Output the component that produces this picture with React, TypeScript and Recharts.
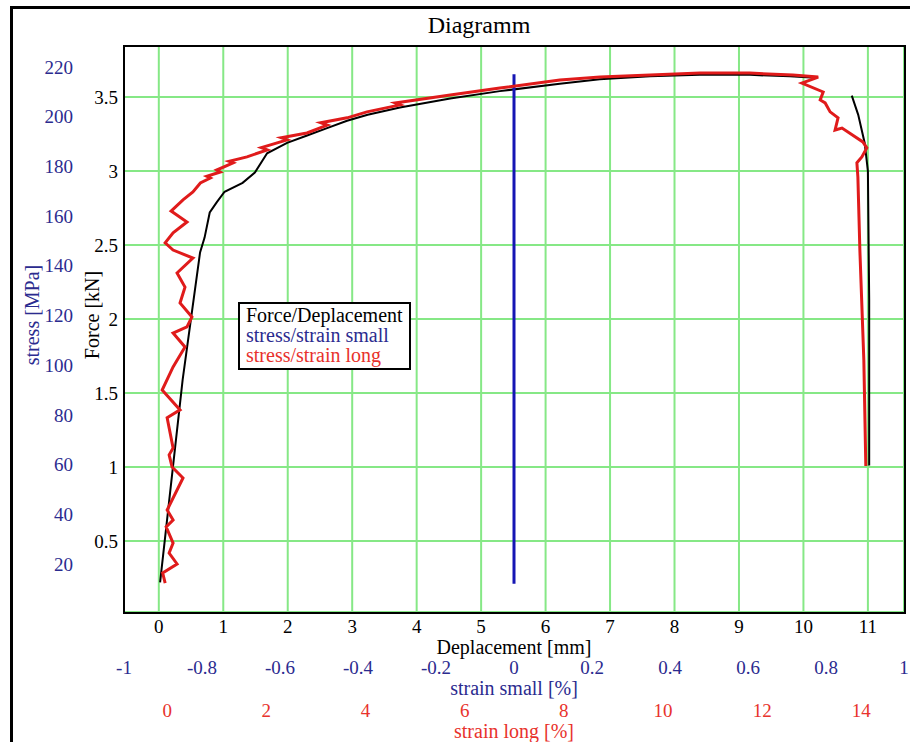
import { LineChart, Line, XAxis, YAxis, CartesianGrid, Legend } from "recharts";

const FONT = '"Liberation Serif", "Times New Roman", Times, serif';
const NAVY = "#2b2b8f";
const RED_TXT = "#e8322c";

// ticks
const mmTicks = [0, 1, 2, 3, 4, 5, 6, 7, 8, 9, 10, 11];
const forceTicks = [0.5, 1, 1.5, 2, 2.5, 3, 3.5];
const stressTicks = [20, 40, 60, 80, 100, 120, 140, 160, 180, 200, 220];
const smallTicks = [-1, -0.8, -0.6, -0.4, -0.2, 0, 0.2, 0.4, 0.6, 0.8, 1];
const longTicks = [0, 2, 4, 6, 8, 10, 12, 14];

// Force/Deplacement (black), null = gap in the record
const deplacementMm = [
  0.02, 0.37, 0.64, 0.71, 0.79, 0.9, 1.02, 1.3, 1.49, 1.68, 1.99, 2.3, 2.61, 2.92, 3.24,
  3.74, 4.52, 5.29, 6.22, 6.84, 7.62, 8.39, 9.17, 9.79, 10.18, 10.5, 10.75, 10.85, 10.95,
  11.0, 11.02, 11.02,
];
const forceKn = [
  0.22, 1.59, 2.45, 2.55, 2.72, 2.79, 2.86, 2.92, 2.99, 3.12, 3.19, 3.24, 3.29, 3.34, 3.38,
  3.43, 3.49, 3.54, 3.59, 3.62, 3.64, 3.65, 3.65, 3.64, 3.63, null, 3.51, 3.38, 3.19,
  3.0, 2.13, 1.01,
];

// stress/strain small (blue)
const strainSmall = [0, 0];
const stressSmall = [12, 217];

// stress/strain long (red)
const strainLong = [
  -0.04, -0.09, 0.2, 0.04, 0.12, -0.02, 0.12, 0, 0.32, 0.1, 0.04, 0.12, 0, 0.26, -0.1,
  0.12, 0.36, 0.12, 0.4, 0.5, 0.26, 0.36, 0.2, 0.52, 0.12, -0.04, 0.12, 0.4, 0.08,
  0.32, 0.52, 0.67, 0.87, 0.8, 1.07, 1.0, 1.33, 1.25, 1.61, 2.02, 1.9, 2.42, 2.3, 2.82,
  3.23, 3.1, 3.63, 4.03, 4.7, 4.6, 5.71, 6.71, 7.92, 8.73, 9.74, 10.75, 11.75, 12.62,
  13.13, 12.8, 13.23, 13.17, 13.27, 13.37, 13.53, 13.47, 13.61, 14.03, 14.11, 14.01,
  13.91, 13.93, 13.97, 14.05, 14.09,
];
const stressLong = [
  12.3, 16.4, 20, 24.4, 28.4, 34.9, 37.7, 41.7, 54.6, 59, 63.9, 66.7, 78.8, 82, 90,
  99.3, 107.3, 112.9, 115.4, 119.4, 125, 131.4, 137.1, 143.1, 146.3, 149.2, 153.2,
  157.6, 162, 166.5, 169.7, 173.3, 175.3, 176, 177.7, 178.5, 181.4, 182, 183.8, 186.6,
  187.5, 190.6, 191.5, 193.4, 196.6, 197.5, 199.5, 201.9, 204.7, 205.5, 208.7, 211.5,
  214.7, 215.9, 216.7, 217.5, 217.5, 216.7, 215.9, 213.5, 209.9, 206.7, 205.5, 201.9,
  199.5, 194.6, 195.4, 189.8, 187.4, 183.8, 181.4, 175.7, 146.3, 102, 59.4,
];

const legendOrder = ["Force/Deplacement", "stress/strain small", "stress/strain long"];
const legendColors: Record<string, string> = {
  "Force/Deplacement": "#000",
  "stress/strain small": NAVY,
  "stress/strain long": RED_TXT,
};

const zip = (xs: number[], ys: (number | null)[]) => xs.map((x, i) => ({ x, y: ys[i] }));
const forceData = zip(deplacementMm, forceKn);
const smallData = zip(strainSmall, stressSmall);
const longData = zip(strainLong, stressLong);

const VLabel = (props: any) => {
  const { viewBox, value, dx, fill } = props;
  const cx = viewBox.x + dx;
  const cy = 315;
  return (
    <text x={cx} y={cy} transform={`rotate(-90 ${cx} ${cy})`} textAnchor="middle"
      dominantBaseline="central" fill={fill} fontSize={20} fontFamily={FONT}>
      {value}
    </text>
  );
};

const HLabel = (props: any) => {
  const { viewBox, value, dy, fill } = props;
  return (
    <text x={viewBox.x + viewBox.width / 2} y={viewBox.y + dy} textAnchor="middle"
      dominantBaseline="central" fill={fill} fontSize={20} fontFamily={FONT}>
      {value}
    </text>
  );
};

const LegendBox = (props: any) => {
  const items = [...(props.payload ?? [])].sort(
    (a: any, b: any) => legendOrder.indexOf(a.value) - legendOrder.indexOf(b.value)
  );
  return (
    <div style={{ border: "2px solid #000", background: "#fff", padding: "1px 6px 3px",
      fontSize: 20, lineHeight: "20px", fontFamily: FONT, whiteSpace: "nowrap" }}>
      {items.map((p: any) => (
        <div key={p.value} style={{ color: legendColors[p.value] ?? p.color }}>{p.value}</div>
      ))}
    </div>
  );
};

const tickStyle = (fill: string) => ({ fill, fontSize: 19, fontFamily: FONT });

export default function App() {
  return (
    <div style={{ position: "absolute", left: 0, top: 0, width: 910, height: 742,
      overflow: "hidden", background: "#fff", fontFamily: FONT }}>
      <div style={{ position: "absolute", left: 10, top: 6, width: 940, height: 780,
        border: "3px solid #000" }} />
      <div style={{ position: "absolute", left: 0, top: 10, width: 958, textAlign: "center",
        fontSize: 24, lineHeight: "30px", color: "#000", fontFamily: FONT }}>
        Diagramm
      </div>
      <div style={{ position: "absolute", left: 0, top: 0 }}>
        <LineChart width={910} height={742} margin={{ top: 46, right: 6, bottom: 0, left: 0 }}
          style={{ fontFamily: FONT }}>
          <CartesianGrid xAxisId="x1mm" yAxisId="y1force" stroke="#86e886" strokeWidth={2} />
          <XAxis xAxisId="x1mm" dataKey="x" type="number" domain={[-0.54, 11.56]}
            allowDataOverflow ticks={mmTicks} height={43} tickLine={false} tickSize={0}
            tickMargin={8} axisLine={false} tick={tickStyle("#000")} interval={0}
            label={<HLabel value="Deplacement [mm]" dy={35} fill="#000" />} />
          <XAxis xAxisId="x2small" dataKey="x" type="number" domain={[-1, 1]}
            allowDataOverflow ticks={smallTicks} height={42} tickLine={false} tickSize={0}
            tickMargin={6} axisLine={false} tick={tickStyle(NAVY)} interval={0}
            label={<HLabel value="strain small [%]" dy={33} fill={NAVY} />} />
          <XAxis xAxisId="x3long" dataKey="x" type="number" domain={[-0.87, 14.86]}
            allowDataOverflow ticks={longTicks} height={45} tickLine={false} tickSize={0}
            tickMargin={7} axisLine={false} tick={tickStyle(RED_TXT)} interval={0}
            label={<HLabel value="strain long [%]" dy={34} fill={RED_TXT} />} />
          <YAxis yAxisId="y1force" type="number" domain={[0.02, 3.845]} allowDataOverflow
            ticks={forceTicks} width={44} tickLine={false} tickSize={0} tickMargin={6}
            axisLine={false} tick={tickStyle("#000")} interval={0}
            label={<VLabel value="Force [kN]" dx={12} fill="#000" />} />
          <YAxis yAxisId="y2stress" type="number" domain={[0.68, 228.4]} allowDataOverflow
            ticks={stressTicks} width={80} tickLine={false} tickSize={0} tickMargin={7}
            axisLine={false} tick={tickStyle(NAVY)} interval={0}
            label={<VLabel value="stress [MPa]" dx={32} fill={NAVY} />} />
          <Line xAxisId="x1mm" yAxisId="y1force" data={forceData} dataKey="y" name="Force/Deplacement"
            stroke="#000" strokeWidth={2} dot={false} isAnimationActive={false} type="linear" />
          <Line xAxisId="x2small" yAxisId="y2stress" data={smallData} dataKey="y" name="stress/strain small"
            stroke="#1616b4" strokeWidth={3} dot={false} isAnimationActive={false} type="linear" />
          <Line xAxisId="x3long" yAxisId="y2stress" data={longData} dataKey="y" name="stress/strain long"
            stroke="#e01b1b" strokeWidth={3} dot={false} isAnimationActive={false} type="linear" />
          <Legend layout="vertical" align="center" verticalAlign="middle" content={<LegendBox />}
            wrapperStyle={{ left: 238, top: 302, width: "auto", height: "auto" }} />
        </LineChart>
      </div>
      <div style={{ position: "absolute", left: 123, top: 45, width: 779, height: 565,
        border: "2px solid #000", pointerEvents: "none" }} />
    </div>
  );
}
